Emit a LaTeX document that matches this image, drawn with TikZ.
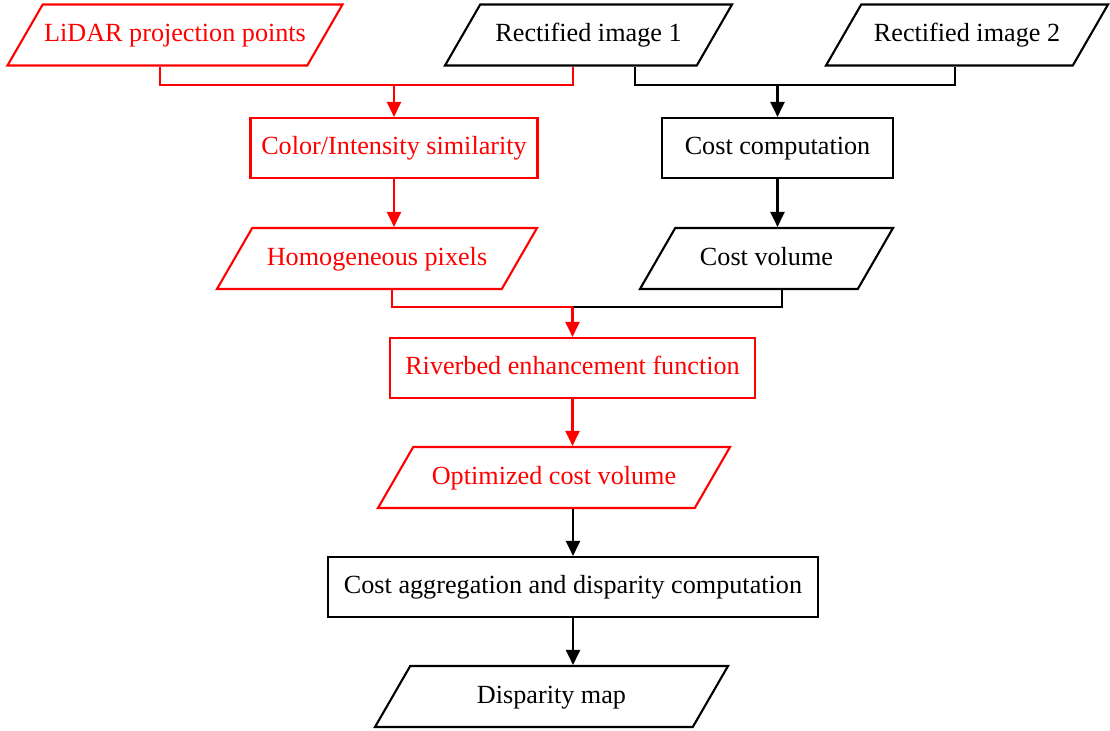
\documentclass[tikz,border=0pt]{standalone}
\usepackage{fontspec}
\setmainfont{Liberation Serif}
\usetikzlibrary{shapes.geometric,arrows.meta}

\begin{document}
\begin{tikzpicture}[
        >={Triangle[length=0.30cm,width=0.28cm]},
        line width=1.2pt,
        every node/.style={font=\fontsize{14.9pt}{18pt}\selectfont},
        procbox/.style={draw, rectangle, minimum height=1.2cm, inner sep=0pt,
                text height=11pt, text depth=3.5pt},
        databox/.style={draw, trapezium, trapezium left angle=60, trapezium right angle=120,
                trapezium stretches body, text height=11pt, text depth=3.5pt,
                inner xsep=0pt, inner ysep=0.355cm},
        redline/.style={red, text=red}
        ]
        \useasboundingbox (0,0) rectangle (22.2,-14.62);
        % inputs
        \node[databox, redline, minimum width=6.7cm] (lidar) at (3.50,-0.70) {LiDAR projection points};
        \node[databox, minimum width=5.74cm] (rect1) at (11.77,-0.70) {Rectified image 1};
        \node[databox, minimum width=5.64cm] (rect2) at (19.34,-0.70) {Rectified image 2};
        % second row
        \node[procbox, redline, minimum width=5.74cm] (simil) at (7.88,-2.96) {Color/Intensity similarity};
        \node[procbox, minimum width=4.62cm] (costcomp) at (15.55,-2.96) {Cost computation};
        \node[databox, redline, minimum width=6.4cm] (homog) at (7.54,-5.17) {Homogeneous pixels};
        \node[databox, minimum width=5.06cm] (costvol) at (15.33,-5.17) {Cost volume};
        % enhancement
        \node[procbox, redline, minimum width=7.3cm] (river) at (11.45,-7.36) {Riverbed enhancement function};
        \node[databox, redline, minimum width=7.04cm] (optvol) at (11.08,-9.55) {Optimized cost volume};
        % output
        \node[procbox, minimum width=9.8cm] (costagg) at (11.46,-11.74) {Cost aggregation and disparity computation};
        \node[databox, minimum width=7.06cm] (disp) at (11.03,-13.93) {Disparity map};

        \coordinate (jtopl) at (7.88,-1.70);
        \coordinate (jtopr) at (15.55,-1.70);
        \coordinate (jmid) at (11.45,-6.14);

        % black branch
        \draw ([xshift=0.93cm]rect1.south) |- (jtopr) -| ([xshift=-0.24cm]rect2.south);
        \draw[->] (jtopr) -- (costcomp.north);
        \draw[->] (costcomp.south) -- (costcomp.south |- costvol.north);
        \draw ([xshift=0.31cm]costvol.south) |- (jmid);
        % red branch
        \draw[red] ([xshift=-0.30cm]lidar.south) |- (jtopl) -| ([xshift=-0.31cm]rect1.south);
        \draw[red,->] (jtopl) -- (simil.north);
        \draw[red,->] (simil.south) -- (simil.south |- homog.north);
        \draw[red] ([xshift=0.30cm]homog.south) |- (jmid);
        \draw[red,->] (jmid) -- (river.north);
        \draw[red,->] (river.south) -- (river.south |- optvol.north);
        % to the output
        \draw[->] (costagg.north |- optvol.south) -- (costagg.north);
        \draw[->] (costagg.south) -- (costagg.south |- disp.north);
\end{tikzpicture}
\end{document}
